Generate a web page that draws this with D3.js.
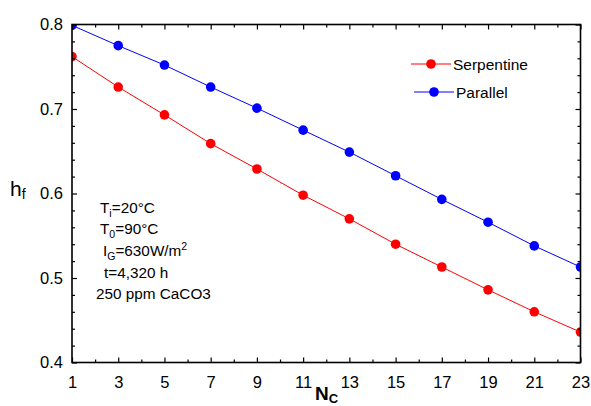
<!DOCTYPE html>
<html><head><meta charset="utf-8">
<script src="https://cdn.jsdelivr.net/npm/d3@7/dist/d3.min.js"></script>
<style>
body{margin:0;background:#fff;}
text{font-family:Arial,"Liberation Sans",sans-serif;fill:#000;}
</style></head>
<body><svg id="c" width="591" height="406"></svg>
<script>
const nc = [1,3,5,7,9,11,13,15,17,19,21,23];
const serpentine = [0.762,0.726,0.693,0.659,0.629,0.598,0.570,0.540,0.513,0.486,0.460,0.436];
const parallel = [0.799,0.775,0.752,0.726,0.701,0.675,0.649,0.621,0.593,0.566,0.538,0.513];
const xTicks = [1,3,5,7,9,11,13,15,17,19,21,23];
const yTicks = [0.4,0.5,0.6,0.7,0.8];
const seriesNames = ["Serpentine","Parallel"];
const seriesColors = ["#ff0000","#0000ff"];

const svg = d3.select("#c");
const L=72, R=580.5, T=24.5, B=362.5;
const x = d3.scaleLinear().domain([1,23]).range([L,R]);
const y = d3.scaleLinear().domain([0.4,0.8]).range([B,T]);

svg.append("defs").append("clipPath").attr("id","clip")
  .append("rect").attr("x",L).attr("y",T).attr("width",R-L).attr("height",B-T);

const series = [serpentine, parallel];
const line = d3.line().x((d,i)=>x(nc[i])).y(d=>y(d));
const g = svg.append("g").attr("clip-path","url(#clip)");
series.forEach((s,k)=>{
  g.append("path").datum(s).attr("d",line).attr("fill","none")
    .attr("stroke",seriesColors[k]).attr("stroke-width",1);
  g.selectAll(null).data(s).enter().append("circle")
    .attr("cx",(d,i)=>x(nc[i])).attr("cy",d=>y(d)).attr("r",4.8)
    .attr("fill",seriesColors[k]);
});

// axes with inward ticks
const minorX = d3.range(2,23,2);
const minorY = d3.range(0.42,0.8,0.02).filter(v=>Math.abs(Math.round(v*10)-v*10)>0.01);
function addAxis(axisGen, transform, labels){
  const a = svg.append("g").attr("transform",transform).call(axisGen);
  a.select(".domain").remove();
  a.selectAll("line").attr("stroke","#000").attr("stroke-width",1.2);
  if(!labels) a.selectAll("text").remove();
  return a;
}
// bottom
const bx = addAxis(d3.axisBottom(x).tickValues(xTicks).tickSize(-5).tickPadding(14).tickFormat(d3.format("d")),`translate(0,${B})`,true);
bx.selectAll("text").attr("font-size",16.5);
addAxis(d3.axisBottom(x).tickValues(minorX).tickSize(-3),`translate(0,${B})`,false);
// top
addAxis(d3.axisTop(x).tickValues(xTicks).tickSize(-5),`translate(0,${T})`,false);
addAxis(d3.axisTop(x).tickValues(minorX).tickSize(-3),`translate(0,${T})`,false);
// left
const ly = addAxis(d3.axisLeft(y).tickValues(yTicks).tickSize(-5).tickPadding(9).tickFormat(d3.format(".1f")),`translate(${L},0)`,true);
ly.selectAll("text").attr("font-size",16.5);
addAxis(d3.axisLeft(y).tickValues(minorY).tickSize(-3),`translate(${L},0)`,false);
// right
addAxis(d3.axisRight(y).tickValues(yTicks).tickSize(-5),`translate(${R},0)`,false);
addAxis(d3.axisRight(y).tickValues(minorY).tickSize(-3),`translate(${R},0)`,false);

svg.append("rect").attr("x",L).attr("y",T).attr("width",R-L).attr("height",B-T)
  .attr("fill","none").attr("stroke","#000").attr("stroke-width",1.6);

// axis titles
const xt = svg.append("text").attr("x",315).attr("y",400).attr("font-size",19).attr("font-weight","bold");
xt.append("tspan").text("N");
xt.append("tspan").attr("font-size",13).attr("dy",3).text("C");
const yt = svg.append("text").attr("x",10).attr("y",196).attr("font-size",21);
yt.append("tspan").text("h");
yt.append("tspan").attr("font-size",14).attr("dy",3).text("f");

// legend
const leg = [{y:64,x0:411},{y:92,x0:414}];
leg.forEach((p,k)=>{
  svg.append("line").attr("x1",p.x0).attr("x2",p.x0+40).attr("y1",p.y).attr("y2",p.y)
    .attr("stroke",seriesColors[k]).attr("stroke-width",1);
  svg.append("circle").attr("cx",p.x0+20).attr("cy",p.y).attr("r",4.8).attr("fill",seriesColors[k]);
  svg.append("text").attr("x",p.x0+42).attr("y",p.y+5.5).attr("font-size",15.5).text(seriesNames[k]);
});

// annotation
const fs=15.3;
function ann(xp,yp,parts){
  const t=svg.append("text").attr("x",xp).attr("y",yp).attr("font-size",fs);
  parts.forEach(p=>{
    const s=t.append("tspan").text(p[0]);
    if(p[1]==="sub") s.attr("font-size",10.5).attr("dy",4);
    else if(p[1]==="sup") s.attr("font-size",10.5).attr("dy",-6);
    else if(p[1]==="base") s.attr("dy",p[2]);
  });
}
ann(100,213,[["T"],["i","sub"],["=20°C","base",-4]]);
ann(100,234,[["T"],["0","sub"],["=90°C","base",-4]]);
ann(103,256,[["I"],["G","sub"],["=630W/m","base",-4],["2","sup"]]);
ann(104,278,[["t=4,320 h"]]);
ann(96,299,[["250 ppm CaCO3"]]);
</script></body></html>
